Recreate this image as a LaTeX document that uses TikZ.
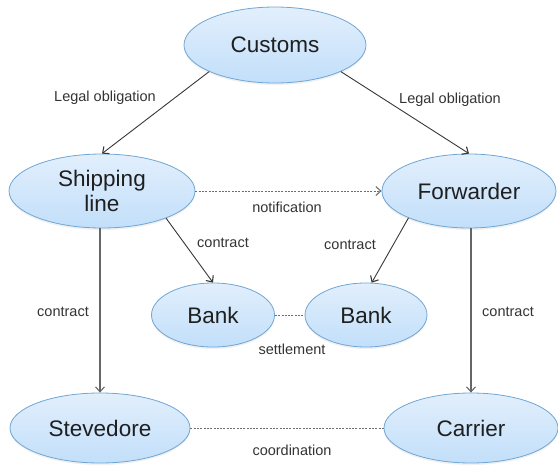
\documentclass[tikz,border=0pt]{standalone}
\usepackage{fontspec}
\setmainfont{Liberation Sans}
\usetikzlibrary{shapes.geometric,arrows.meta,shadows}
\definecolor{ellfilltop}{RGB}{226,239,252}
\definecolor{ellfillbot}{RGB}{194,223,250}
\definecolor{elldraw}{RGB}{112,166,212}
\definecolor{linecol}{RGB}{55,55,55}
\definecolor{dashcol}{RGB}{110,110,110}
\begin{document}
\begin{tikzpicture}[x=1pt,y=-1pt,
  ent/.style={ellipse, draw=elldraw, line width=0.8pt, top color=ellfilltop, bottom color=ellfillbot,
    inner sep=0pt, font=\fontsize{22.5}{25}\selectfont, text=black!88, align=center,
    drop shadow={opacity=0.12, shadow xshift=0pt, shadow yshift=-2pt}},
  arr/.style={draw=linecol, line width=0.9pt, -{Straight Barb[length=5pt,width=9pt,line width=1.1pt]}},
  varr/.style={arr, draw=black!60, line width=1.3pt},
  dsh/.style={draw=dashcol, line width=0.9pt, dash pattern=on 2pt off 1.3pt},
  lbl/.style={font=\fontsize{14.5}{16}\selectfont, text=black!80, inner sep=0pt}]
\useasboundingbox (0,0) rectangle (558,466);

\node[ent, minimum width=182pt, minimum height=76pt] (cus) at (275,45) {Customs};
\node[ent, minimum width=186pt, minimum height=74pt] (ship) at (102,191) {Shipping\\line};
\node[ent, minimum width=174pt, minimum height=74pt] (fwd) at (469,191) {Forwarder};
\node[ent, minimum width=123pt, minimum height=64pt] (bankL) at (213,315) {Bank};
\node[ent, minimum width=122pt, minimum height=64pt] (bankR) at (366,315) {Bank};
\node[ent, minimum width=180pt, minimum height=70pt] (stev) at (100,428) {Stevedore};
\node[ent, minimum width=174pt, minimum height=70pt] (car) at (471,428) {Carrier};

\draw[arr] (cus.202) -- (ship.north);
\draw[arr] (cus.338) -- (fwd.north);
\draw[dsh, -{Straight Barb[length=5pt,width=9pt,line width=1.1pt]}] (ship.east) -- (fwd.west);
\draw[arr] (ship.337) -- (bankL.north);
\draw[arr] (fwd.204) -- (bankR.80);
\draw[dsh] (bankL.east) -- (bankR.west);
\draw[varr] (ship.south -| stev.north) -- (stev.north);
\draw[varr] (fwd.south -| car.north) -- (car.north);
\draw[dsh] (stev.east) -- (car.west);

\node[lbl] (l1) at (105,98) {Legal obligation};
\node[lbl] (l2) at (450,100) {Legal obligation};
\node[lbl] (l3) at (287,207) {notification};
\node[lbl] (l4) at (223,243) {contract};
\node[lbl] (l5) at (350,245) {contract};
\node[lbl] (l6) at (292,349) {settlement};
\node[lbl] (l7) at (63,312) {contract};
\node[lbl] (l8) at (508,312) {contract};
\node[lbl] (l9) at (292,450) {coordination};
\end{tikzpicture}
\end{document}
